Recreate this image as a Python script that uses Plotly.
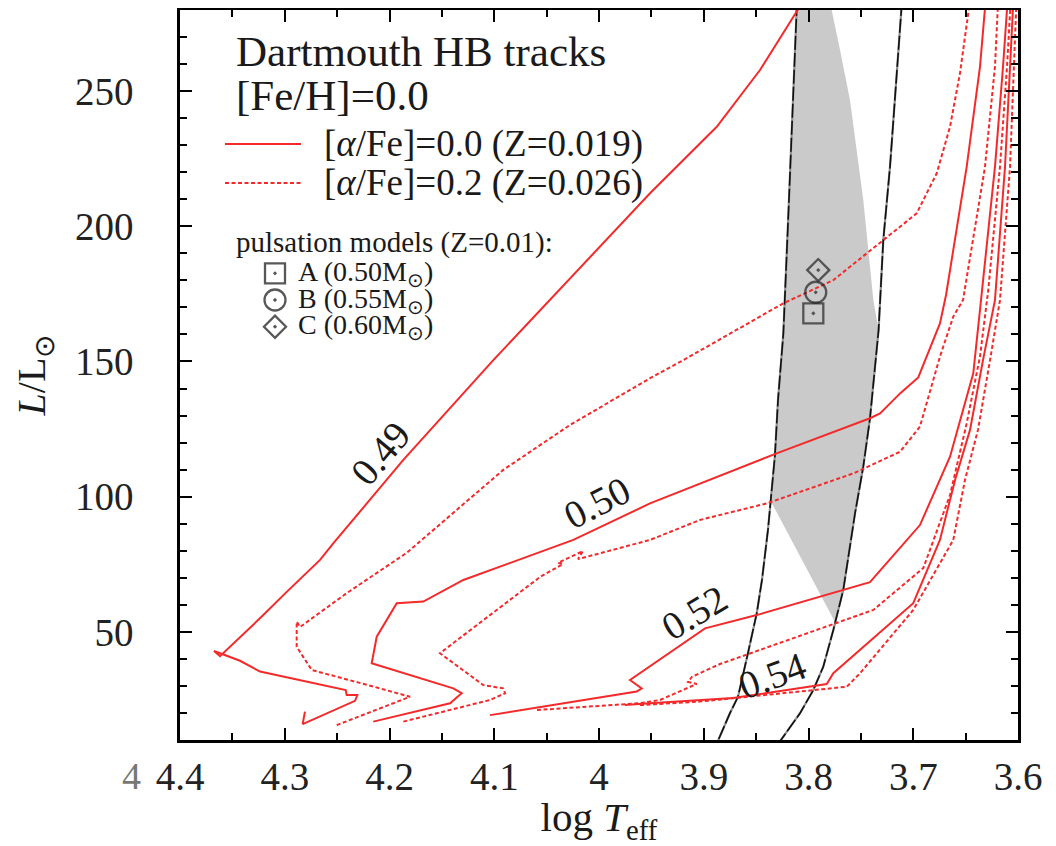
import plotly.graph_objects as go

# ---------------- data (log Teff, L/Lsun) ----------------
# Z=0.019 ([alpha/Fe]=0.0) tracks, solid
s49_x = [4.2807, 4.2829, 4.2329, 4.2307, 4.2409, 4.2418, 4.3236, 4.3427, 4.3675, 4.3618, 4.3205, 4.2981,
         4.2663, 4.2537, 4.1868, 4.1009, 3.9513, 3.8876, 3.8463, 3.8055]
s49_y = [20.5, 15.9, 24.5, 26.6, 26.6, 28.5, 35.3, 39.3, 42.9, 41.0, 56.2, 64.8,
         76.6, 82.7, 113.6, 150.5, 212.2, 236.8, 257.8, 283]
s50_x = [4.2155, 4.1422, 4.1311, 4.1391, 4.2170, 4.2122, 4.1931, 4.1677, 4.1295, 4.0245, 3.9513, 3.9036,
         3.8304, 3.7413, 3.7317, 3.7126, 3.6952, 3.6745, 3.6687, 3.6490, 3.6363, 3.6310]
s50_y = [16.8, 23.6, 27.3, 29.1, 38.4, 48.2, 60.6, 61.2, 69.2, 84.0, 97.5, 104.9,
         116.0, 129.0, 130.8, 138.2, 144.1, 164.1, 174.6, 222.0, 259.0, 283]
s52_x = [4.1041, 3.9640, 3.9592, 3.9704, 3.8988, 3.8495, 3.7413, 3.6936, 3.6649, 3.6427, 3.6353, 3.6220,
         3.6143, 3.6100]
s52_y = [19.2, 27.9, 29.1, 32.2, 51.3, 56.2, 68.4, 89.5, 114.8, 145.6, 172.7, 222.0, 259.0, 283]
s54_x = [3.9752, 3.9513, 3.8721, 3.7826, 3.7763, 3.7000, 3.6745, 3.6601, 3.6458, 3.6334, 3.6220, 3.6124,
         3.6076, 3.6045]
s54_y = [22.9, 23.6, 25.5, 30.7, 34.7, 60.6, 84.0, 106.2, 124.7, 150.5, 172.7, 222.0, 259.0, 283]

# Z=0.026 ([alpha/Fe]=0.2) tracks, dashed
d49_x = [4.2504, 4.1804, 4.2091, 4.2632, 4.2743, 4.2886, 4.2886, 4.2854, 4.2409, 4.1836, 4.0914, 4.0277,
         3.9513, 3.9195, 3.8241, 3.7763, 3.7286, 3.6967, 3.6776, 3.6649, 3.6554, 3.6460]
d49_y = [15.5, 26.0, 29.1, 34.7, 35.9, 44.5, 53.8, 51.8, 64.3, 79.2, 109.9, 126.5,
         143.8, 150.5, 171.5, 180.1, 194.9, 204.8, 219.6, 236.8, 256.6, 283]
d50_x = [4.1868, 4.1041, 4.0897, 4.0914, 4.1105, 4.1518, 4.0563, 4.0344, 4.0391, 4.0153, 4.0200, 3.9513,
         3.9036, 3.8399, 3.7572, 3.7126, 3.6936, 3.6745, 3.6618, 3.6525, 3.6315, 3.6220, 3.6190]
d50_y = [16.8, 24.8, 27.3, 29.1, 30.3, 42.1, 70.3, 75.1, 75.5, 79.9, 76.9, 84.0,
         91.4, 97.5, 108.6, 116.6, 125.9, 151.8, 166.6, 172.7, 222.0, 259.0, 283]
d52_x = [4.0592, 3.9609, 3.9418, 3.9067, 3.9150, 3.9112, 3.8845, 3.7381, 3.6904, 3.6792, 3.6649, 3.6490,
         3.6363, 3.6284, 3.6172, 3.6105, 3.6070]
d52_y = [21.1, 23.6, 24.8, 30.7, 31.5, 33.4, 38.1, 58.1, 73.6, 85.8, 100.6, 127.1,
         151.8, 176.4, 222.0, 259.0, 283]
d54_x = [3.9609, 3.9036, 3.7635, 3.7508, 3.7000, 3.6618, 3.6506, 3.6382, 3.6267, 3.6172, 3.6076, 3.6038,
         3.6015]
d54_y = [22.9, 24.2, 29.7, 34.7, 58.1, 84.0, 106.2, 124.7, 150.5, 172.7, 222.0, 259.0, 283]

# instability strip edges
blue_x = [3.8110, 3.8145, 3.8193, 3.8240, 3.8291, 3.8320, 3.8387, 3.8444, 3.8494, 3.8578, 3.8673, 3.8749, 3.8917]
blue_y = [283, 246.7, 203.5, 160.4, 135.8, 115.4, 87.7, 69.2, 56.9, 42.1, 26.0, 20.0, 5]
red_x = [3.7108, 3.7174, 3.7222, 3.7286, 3.7331, 3.7413, 3.7477, 3.7556, 3.7623, 3.7668, 3.7763, 3.7859,
         3.7954, 3.8081, 3.8355]
red_y = [283, 246.7, 222.0, 194.9, 161.6, 129.0, 111.1, 93.8, 76.6, 65.5, 50.7, 37.1, 28.5, 19.9, 5]

# grey region
gray_x = [3.8113, 3.8145, 3.8193, 3.8240, 3.8291, 3.8320, 3.8351, 3.7747, 3.7668, 3.7623, 3.7556, 3.7477,
          3.7413, 3.7331, 3.7381, 3.7477, 3.7604, 3.7699, 3.7779]
gray_y = [280, 246.7, 203.5, 160.4, 135.8, 115.4, 97.7, 53.6, 65.5, 76.6, 93.8, 111.1,
          129.0, 161.6, 172.7, 209.7, 246.7, 265.2, 280]

# pulsation models
puls_x = [3.7954, 3.7931, 3.7907]
puls_y = [167.8, 175.6, 183.8]
puls_names = ["A (0.50M<sub>⊙</sub>)", "B (0.55M<sub>⊙</sub>)", "C (0.60M<sub>⊙</sub>)"]

# track mass labels
lab_text = ["0.49", "0.50", "0.52", "0.54"]
lab_x = [4.2091, 4.0019, 3.9093, 3.8348]
lab_y = [116.1, 97.7, 57.3, 34.0]
lab_ang = [-50, -27, -31, -20]

x_ticks = [4.4, 4.3, 4.2, 4.1, 4.0, 3.9, 3.8, 3.7, 3.6]
x_ticktext = ["4.4", "4.3", "4.2", "4.1", "4", "3.9", "3.8", "3.7", "3.6"]
y_ticks = [50, 100, 150, 200, 250]

# ---------------- figure ----------------
SERIF = "Liberation Serif, Times New Roman, serif"
RED = "#f42a2a"
TXT = "#1a1a1a"
DASH = "4px,2.5px"

# the page body adds an 8px margin, so the figure is 8px smaller than the window
OFF = 8
W, H = 1056 - OFF, 846 - OFF
ML, MR, MT, MB = 172, 38, 2, 106


def px(xp):
    """page pixel x -> paper fraction"""
    return (xp - OFF - ML) / (W - ML - MR)


def py(yp):
    """page pixel y -> paper fraction"""
    return (H - MB - (yp - OFF)) / (H - MT - MB)


fig = go.Figure()
fig.add_trace(go.Scatter(x=gray_x, y=gray_y, mode="lines", fill="toself", fillcolor="#cacaca",
                         line=dict(width=0), hoverinfo="skip"))
for xs, ys in [(blue_x, blue_y), (red_x, red_y)]:
    fig.add_trace(go.Scatter(x=xs, y=ys, mode="lines", line=dict(color="#909090", width=2.2)))
    fig.add_trace(go.Scatter(x=xs, y=ys, mode="lines", line=dict(color="#111111", width=1.6, dash="14px,3px")))

for xs, ys in [(s49_x, s49_y), (s50_x, s50_y), (s52_x, s52_y), (s54_x, s54_y)]:
    fig.add_trace(go.Scatter(x=xs, y=ys, mode="lines", line=dict(color=RED, width=2)))
for xs, ys in [(d49_x, d49_y), (d50_x, d50_y), (d52_x, d52_y), (d54_x, d54_y)]:
    fig.add_trace(go.Scatter(x=xs, y=ys, mode="lines", line=dict(color=RED, width=2, dash=DASH)))

symbols = ["square-open-dot", "circle-open-dot", "diamond-open-dot"]
sizes = [20, 21, 17]
fig.add_trace(go.Scatter(x=puls_x, y=puls_y, mode="markers",
                         marker=dict(symbol=symbols, size=sizes, color="#222222",
                                     line=dict(color="#222222", width=2.3))))

# legend markers on an overlay axis (0..1 == paper)
leg_y = [py(273.3), py(300), py(326.7)]
fig.add_trace(go.Scatter(x=[px(275)] * 3, y=leg_y, mode="markers", xaxis="x2", yaxis="y2",
                         cliponaxis=False,
                         marker=dict(symbol=symbols, size=sizes, color="#111111",
                                     line=dict(color="#111111", width=2.3))))

ann = []
ann.append(dict(text="Dartmouth HB tracks", x=px(234), y=py(52), xref="paper", yref="paper",
                xanchor="left", yanchor="middle", showarrow=False, font=dict(family=SERIF, size=43, color=TXT)))
ann.append(dict(text="[Fe/H]=0.0", x=px(234), y=py(96), xref="paper", yref="paper",
                xanchor="left", yanchor="middle", showarrow=False, font=dict(family=SERIF, size=43, color=TXT)))
ann.append(dict(text="[<i>α</i>/Fe]=0.0 (Z=0.019)", x=px(322), y=py(144), xref="paper", yref="paper",
                xanchor="left", yanchor="middle", showarrow=False, font=dict(family=SERIF, size=37, color=TXT)))
ann.append(dict(text="[<i>α</i>/Fe]=0.2 (Z=0.026)", x=px(322), y=py(183), xref="paper", yref="paper",
                xanchor="left", yanchor="middle", showarrow=False, font=dict(family=SERIF, size=37, color=TXT)))
ann.append(dict(text="pulsation models (Z=0.01):", x=px(234), y=py(242), xref="paper", yref="paper",
                xanchor="left", yanchor="middle", showarrow=False, font=dict(family=SERIF, size=29, color=TXT)))
for name, yy in zip(puls_names, leg_y):
    ann.append(dict(text=name, x=px(296), y=yy, xref="paper", yref="paper",
                    xanchor="left", yanchor="middle", showarrow=False, font=dict(family=SERIF, size=28, color=TXT)))
for t, xx, yy, a in zip(lab_text, lab_x, lab_y, lab_ang):
    ann.append(dict(text=t, x=xx, y=yy, xref="x", yref="y", textangle=a, showarrow=False,
                    xanchor="center", yanchor="middle", font=dict(family=SERIF, size=39, color=TXT)))
# clipped stray label at far left of x axis
ann.append(dict(text="4", x=px(143), y=py(776), xref="paper", yref="paper", xanchor="right",
                yanchor="middle", showarrow=False, font=dict(family=SERIF, size=38, color="#777777")))

shapes = [
    dict(type="line", xref="paper", yref="paper", x0=px(225), x1=px(301), y0=py(144), y1=py(144),
         line=dict(color=RED, width=2)),
    dict(type="line", xref="paper", yref="paper", x0=px(225), x1=px(301), y0=py(183), y1=py(183),
         line=dict(color=RED, width=2, dash=DASH)),
]

axis_common = dict(showgrid=False, zeroline=False, showline=True, linecolor="black", linewidth=2.5,
                   mirror="allticks", ticks="inside", ticklen=12, tickwidth=2, tickcolor="black",
                   automargin=False,
                   tickfont=dict(family=SERIF, size=39, color="#222222"))

fig.update_layout(
    width=W, height=H,
    margin=dict(l=ML, r=MR, t=MT, b=MB, autoexpand=False),
    paper_bgcolor="white", plot_bgcolor="white",
    showlegend=False,
    xaxis=dict(range=[4.4, 3.6], tickmode="array", tickvals=x_ticks, ticktext=x_ticktext,
               minor=dict(tickmode="linear", tick0=3.6, dtick=0.05, ticks="inside", ticklen=7,
                          tickwidth=2, tickcolor="black"),
               ticklabelstandoff=0,
               title=dict(text="log <i>T</i><sub>eff</sub>", font=dict(family=SERIF, size=41, color=TXT),
                          standoff=12),
               **axis_common),
    yaxis=dict(range=[10, 280], tickmode="array", tickvals=y_ticks,
               minor=dict(tickmode="linear", tick0=10, dtick=10, ticks="inside", ticklen=7,
                          tickwidth=2, tickcolor="black"),
               ticklabelstandoff=36,
               title=dict(text="<i>L</i>/L<sub>⊙</sub>", font=dict(family=SERIF, size=40, color=TXT),
                          standoff=17),
               **axis_common),
    xaxis2=dict(overlaying="x", range=[0, 1], visible=False),
    yaxis2=dict(overlaying="y", range=[0, 1], visible=False),
    annotations=ann,
    shapes=shapes,
)

fig.write_html("out.html")
